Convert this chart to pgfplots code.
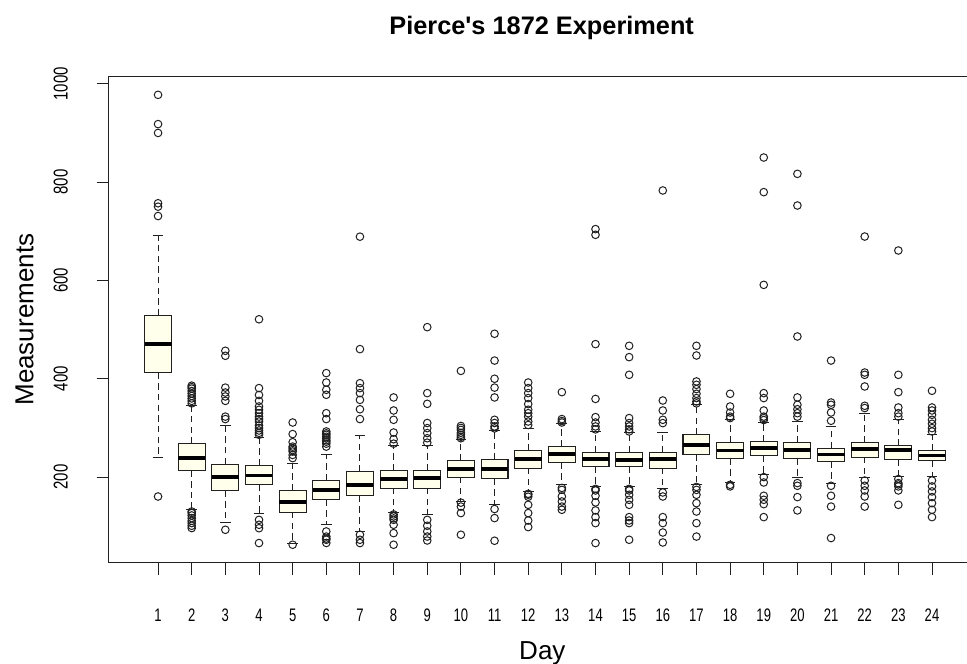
\documentclass[border=0pt]{standalone}
\usepackage{fontspec}
\setmainfont{Liberation Sans}
\newfontfamily\plainfont{Liberation Sans}
\newfontfamily\xtickfont{Liberation Sans}[FakeStretch=0.72]
\newfontfamily\ytickfont{Liberation Sans}[FakeStretch=0.75]
\usepackage{pgfplots}
\pgfplotsset{compat=1.18}
\usepgfplotslibrary{statistics}
\definecolor{boxfill}{HTML}{FFFFEC}
\definecolor{ink}{HTML}{202020}
\pgfplotsset{
  rb/.style={ink, line width=0.75pt, mark=o, mark size=2.85pt,
    mark options={solid, line width=0.75pt, ink}},
}
\begin{document}
\begin{tikzpicture}
\useasboundingbox (-81.7pt,-76pt) rectangle (643.6pt,422pt);
\clip (-81.7pt,-76pt) rectangle (643.6pt,422pt);
\begin{axis}[
  at={(0pt,0pt)}, anchor=south west,
  scale only axis, width=654.2pt, height=364.5pt,
  xmin=-0.46, xmax=25.46, ymin=26, ymax=1014.5,
  xtick={1,...,24}, ytick={200,400,600,800,1000},
  xtick pos=left, ytick pos=left,
  tick align=outside, major tick length=9.3pt,
  tick style={ink, line width=0.75pt},
  axis line style={ink, line width=0.8pt},
  /pgf/number format/assume math mode=true,
  /pgf/number format/set thousands separator={},
  scaled y ticks=false,
  xticklabel style={anchor=base, yshift=-34.95pt, font=\xtickfont\fontsize{13.6pt}{15pt}\selectfont},
  yticklabel style={xshift=-21.75pt, rotate=90, anchor=base, font=\ytickfont\fontsize{15pt}{17pt}\selectfont},
  title={Pierce's 1872 Experiment},
  xlabel={Day}, ylabel={Measurements},
  every axis title/.style={at={(0.5,1)}, anchor=base, yshift=31.3pt, xshift=-2.5pt, font=\plainfont\fontsize{19pt}{22pt}\selectfont\bfseries},
  every axis x label/.style={at={(0.5,0)}, anchor=base, yshift=-73pt, xshift=-2pt, font=\fontsize{19.5pt}{22pt}\selectfont},
  every axis y label/.style={at={(0,0.5)}, xshift=-56.7pt, rotate=90, anchor=base, font=\fontsize{19.5pt}{22pt}\selectfont},
  boxplot/draw direction=y,
  boxplot/box extend=0.8,
  boxplot/whisker extend=0.32,
  boxplot/every box/.style={fill=boxfill, draw=ink, line width=0.8pt},
  boxplot/every median/.style={line width=2.6pt, black},
  boxplot/every whisker/.style={line width=0.75pt, ink},
  boxplot/draw/lower whisker/.code={%
    \draw[/pgfplots/boxplot/every whisker/.try, dash pattern=on 4.8pt off 3.2pt]
      (boxplot box cs:\pgfplotsboxplotvalue{lower quartile},0.5) -- (boxplot box cs:\pgfplotsboxplotvalue{lower whisker},0.5);
    \draw[/pgfplots/boxplot/every whisker/.try]
      (boxplot whisker cs:\pgfplotsboxplotvalue{lower whisker},0) -- (boxplot whisker cs:\pgfplotsboxplotvalue{lower whisker},1);
  },
  boxplot/draw/upper whisker/.code={%
    \draw[/pgfplots/boxplot/every whisker/.try, dash pattern=on 4.8pt off 3.2pt]
      (boxplot box cs:\pgfplotsboxplotvalue{upper quartile},0.5) -- (boxplot box cs:\pgfplotsboxplotvalue{upper whisker},0.5);
    \draw[/pgfplots/boxplot/every whisker/.try]
      (boxplot whisker cs:\pgfplotsboxplotvalue{upper whisker},0) -- (boxplot whisker cs:\pgfplotsboxplotvalue{upper whisker},1);
  },
]
% Day 1
\addplot[rb, boxplot prepared={draw position=1, lower whisker=240.7, lower quartile=412.7, median=470.5, upper quartile=528.7, upper whisker=691}]
  coordinates {(0,977.5) (0,918) (0,900) (0,757) (0,750) (0,731) (0,160.5)};
% Day 2
\addplot[rb, boxplot prepared={draw position=2, lower whisker=135, lower quartile=213.5, median=238.6, upper quartile=267.7, upper whisker=345}]
  coordinates {(0,350) (0,355) (0,360) (0,365) (0,370) (0,375) (0,380) (0,383) (0,386)
               (0,130) (0,126.8) (0,122) (0,116.6) (0,111) (0,106.4) (0,101) (0,96.3)};
% Day 3
\addplot[rb, boxplot prepared={draw position=3, lower whisker=108.5, lower quartile=172.8, median=200, upper quartile=226.4, upper whisker=305}]
  coordinates {(0,456.9) (0,446.7) (0,382) (0,372) (0,364) (0,355) (0,323) (0,318) (0,92.8)};
% Day 4
\addplot[rb, boxplot prepared={draw position=4, lower whisker=126.8, lower quartile=184.3, median=203.3, upper quartile=223.6, upper whisker=281}]
  coordinates {(0,521) (0,381) (0,367) (0,355) (0,343.6) (0,336.9) (0,330) (0,323) (0,318) (0,313) (0,305) (0,299.6) (0,294.8) (0,290) (0,286)
               (0,113) (0,103) (0,96) (0,65.8)};
% Day 5
\addplot[rb, boxplot prepared={draw position=5, lower whisker=65.8, lower quartile=128.8, median=149, upper quartile=172.8, upper whisker=228.5}]
  coordinates {(0,311) (0,287.5) (0,271) (0,262) (0,259) (0,255) (0,252) (0,245) (0,238.6) (0,62.4)};
% Day 6
\addplot[rb, boxplot prepared={draw position=6, lower whisker=103, lower quartile=153.8, median=174, upper quartile=193, upper whisker=246.8}]
  coordinates {(0,411.5) (0,392.4) (0,377.6) (0,367.4) (0,330) (0,318) (0,292.8) (0,289) (0,286) (0,282) (0,279) (0,275) (0,272) (0,268) (0,262)
               (0,89.4) (0,79) (0,75) (0,72.5) (0,66)};
% Day 7
\addplot[rb, boxplot prepared={draw position=7, lower whisker=89.4, lower quartile=162, median=184.3, upper quartile=211.4, upper whisker=284}]
  coordinates {(0,689) (0,460.3) (0,391) (0,381) (0,370.8) (0,357) (0,338) (0,318) (0,82.7) (0,72.5) (0,65.8)};
% Day 8
\addplot[rb, boxplot prepared={draw position=8, lower whisker=128, lower quartile=177.6, median=196, upper quartile=213.5, upper whisker=263.7}]
  coordinates {(0,362) (0,335.5) (0,316.5) (0,290.7) (0,277) (0,268) (0,124) (0,120) (0,116) (0,113) (0,103) (0,86) (0,62.4)};
% Day 9
\addplot[rb, boxplot prepared={draw position=9, lower whisker=123.3, lower quartile=177.6, median=198, upper quartile=213.5, upper whisker=263.7}]
  coordinates {(0,505) (0,370.8) (0,349) (0,310) (0,299.6) (0,289.5) (0,279) (0,270) (0,113) (0,101) (0,89.4) (0,79) (0,71)};
% Day 10
\addplot[rb, boxplot prepared={draw position=10, lower whisker=150.4, lower quartile=200, median=216, upper quartile=233, upper whisker=276}]
  coordinates {(0,416) (0,304) (0,300) (0,296) (0,290) (0,286) (0,282) (0,279) (0,148) (0,140) (0,126.8) (0,82.7)};
% Day 11
\addplot[rb, boxplot prepared={draw position=11, lower whisker=143.6, lower quartile=196.5, median=216, upper quartile=235, upper whisker=294.8}]
  coordinates {(0,491.5) (0,437) (0,400) (0,382) (0,362) (0,316.5) (0,310) (0,303) (0,299) (0,135) (0,116.6) (0,70.5)};
% Day 12
\addplot[rb, boxplot prepared={draw position=12, lower whisker=170.8, lower quartile=218.3, median=236.6, upper quartile=254, upper whisker=299.6}]
  coordinates {(0,392.4) (0,381) (0,370.8) (0,360.7) (0,348.5) (0,337) (0,330) (0,323) (0,313) (0,306)
               (0,166) (0,164) (0,160) (0,143.6) (0,126.8) (0,111.7) (0,98.3)};
% Day 13
\addplot[rb, boxplot prepared={draw position=13, lower whisker=184.3, lower quartile=229.7, median=247.4, upper quartile=262.2, upper whisker=309.8}]
  coordinates {(0,372.8) (0,318) (0,314) (0,311) (0,178) (0,174) (0,160.5) (0,150.4) (0,140) (0,133.5)};
% Day 14
\addplot[rb, boxplot prepared={draw position=14, lower whisker=180.9, lower quartile=221.6, median=237.2, upper quartile=250.8, upper whisker=292.8}]
  coordinates {(0,704.4) (0,692.8) (0,470.5) (0,359) (0,322) (0,311) (0,303) (0,297)
               (0,176) (0,172.8) (0,162) (0,148.5) (0,132.2) (0,118.6) (0,106.4) (0,65.8)};
% Day 15
\addplot[rb, boxplot prepared={draw position=15, lower whisker=180.9, lower quartile=221.6, median=235.2, upper quartile=250.8, upper whisker=290.7}]
  coordinates {(0,467) (0,444) (0,408) (0,320) (0,309.8) (0,303) (0,297) (0,292.8)
               (0,176) (0,172.8) (0,164) (0,153.8) (0,143.6) (0,118.6) (0,111.7) (0,106.4) (0,72.5)};
% Day 16
\addplot[rb, boxplot prepared={draw position=16, lower whisker=177.6, lower quartile=218.3, median=236.6, upper quartile=250.8, upper whisker=290.7}]
  coordinates {(0,783) (0,355.8) (0,335.5) (0,316.5) (0,309.8) (0,168.7) (0,160.5) (0,118.6) (0,106.4) (0,87.3) (0,67)};
% Day 17
\addplot[rb, boxplot prepared={draw position=17, lower whisker=184.3, lower quartile=245.4, median=265.7, upper quartile=286, upper whisker=347}]
  coordinates {(0,467) (0,447.3) (0,394.5) (0,387.7) (0,379) (0,369.4) (0,360.7) (0,353.8) (0,350)
               (0,180) (0,174) (0,164) (0,147) (0,130) (0,106.4) (0,79)};
% Day 18
\addplot[rb, boxplot prepared={draw position=18, lower whisker=189, lower quartile=237.2, median=254, upper quartile=270.4, upper whisker=316.5}]
  coordinates {(0,369.4) (0,343.6) (0,331.4) (0,323) (0,320) (0,184.3) (0,181)};
% Day 19
\addplot[rb, boxplot prepared={draw position=19, lower whisker=204.7, lower quartile=243.3, median=259, upper quartile=272.4, upper whisker=311}]
  coordinates {(0,850) (0,779.6) (0,591) (0,370.8) (0,360.7) (0,335.5) (0,323) (0,320) (0,316)
               (0,200) (0,189) (0,162) (0,153.8) (0,145) (0,118.6)};
% Day 20
\addplot[rb, boxplot prepared={draw position=20, lower whisker=200, lower quartile=237.2, median=255.5, upper quartile=270.4, upper whisker=313}]
  coordinates {(0,816.8) (0,752.4) (0,486) (0,362) (0,347) (0,338) (0,330) (0,323) (0,187.8) (0,182.3) (0,159.3) (0,132.2)};
% Day 21
\addplot[rb, boxplot prepared={draw position=21, lower whisker=187.8, lower quartile=231.8, median=245.4, upper quartile=259, upper whisker=303}]
  coordinates {(0,437) (0,351.7) (0,347) (0,331.4) (0,314.5) (0,182.3) (0,162) (0,140) (0,76)};
% Day 22
\addplot[rb, boxplot prepared={draw position=22, lower whisker=200, lower quartile=240.7, median=257.6, upper quartile=270.4, upper whisker=330}]
  coordinates {(0,689.3) (0,412.7) (0,408) (0,384.3) (0,345) (0,340.4) (0,193) (0,182.3) (0,172.8) (0,160.5) (0,140)};
% Day 23
\addplot[rb, boxplot prepared={draw position=23, lower whisker=201, lower quartile=235.2, median=255.5, upper quartile=264, upper whisker=316.5}]
  coordinates {(0,660.9) (0,408) (0,372.8) (0,341.6) (0,330) (0,323) (0,196) (0,187.8) (0,185) (0,181) (0,172.8) (0,143.6)};
% Day 24
\addplot[rb, boxplot prepared={draw position=24, lower whisker=201, lower quartile=233, median=244, upper quartile=254, upper whisker=286}]
  coordinates {(0,375.5) (0,341.6) (0,335.5) (0,326.7) (0,316.5) (0,308.4) (0,299.6) (0,292.8)
               (0,193) (0,181) (0,170.8) (0,159.3) (0,147) (0,133.5) (0,118.6)};
\end{axis}
\end{tikzpicture}
\end{document}
